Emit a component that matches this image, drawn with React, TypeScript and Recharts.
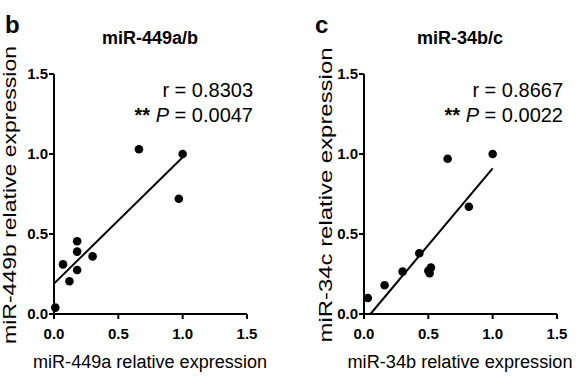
import React from "react";
import {
  ScatterChart,
  Scatter,
  XAxis,
  YAxis,
  ReferenceLine,
} from "recharts";

// panel b: miR-449a vs miR-449b
const mir449a = [0.66, 1.0, 0.97, 0.18, 0.18, 0.07, 0.3, 0.18, 0.12, 0.01];
const mir449b = [1.03, 1.0, 0.72, 0.455, 0.39, 0.31, 0.36, 0.275, 0.205, 0.04];
const fit449 = [
  { x: 0, y: 0.19 },
  { x: 1.0, y: 0.98 },
];

// panel c: miR-34b vs miR-34c
const mir34b = [0.65, 1.0, 0.815, 0.43, 0.5, 0.52, 0.51, 0.3, 0.16, 0.03];
const mir34c = [0.97, 1.0, 0.67, 0.38, 0.27, 0.29, 0.255, 0.265, 0.18, 0.1];
const fit34 = [
  { x: 0.05, y: 0 },
  { x: 1.0, y: 0.91 },
];

const axisTicks = [0, 0.5, 1, 1.5];

const font = '"Liberation Sans", Arial, Helvetica, sans-serif';

const toPoints = (xs: number[], ys: number[]) =>
  xs.map((x, i) => ({ x, y: ys[i] }));

const Dot = (props: any) => {
  const { cx, cy } = props;
  if (cx == null || cy == null) return null;
  return <circle cx={cx} cy={cy} r={4.3} fill="#000" />;
};

interface PanelProps {
  points: { x: number; y: number }[];
  fit: { x: number; y: number }[];
  left: number;
  marginLeft: number;
  marginRight: number;
}

function Panel({ points, fit, left, marginLeft, marginRight }: PanelProps) {
  const tick = { fill: "#000", fontSize: 15, fontWeight: 700, fontFamily: font };
  return (
    <div style={{ position: "absolute", left, top: 0 }}>
      <ScatterChart
        width={290}
        height={390}
        margin={{ top: 74, right: marginRight, bottom: 46, left: marginLeft }}
      >
        <XAxis
          type="number"
          dataKey="x"
          domain={[0, 1.5]}
          ticks={axisTicks}
          tickFormatter={(v) => v.toFixed(1)}
          height={30}
          tickSize={5}
          tickMargin={9}
          axisLine={{ stroke: "#000", strokeWidth: 2 }}
          tickLine={{ stroke: "#000", strokeWidth: 2 }}
          tick={tick}
        />
        <YAxis
          type="number"
          dataKey="y"
          domain={[0, 1.5]}
          ticks={axisTicks}
          tickFormatter={(v) => v.toFixed(1)}
          width={30}
          tickSize={5}
          tickMargin={1}
          axisLine={{ stroke: "#000", strokeWidth: 2 }}
          tickLine={{ stroke: "#000", strokeWidth: 2 }}
          tick={tick}
        />
        <ReferenceLine
          segment={fit}
          stroke="#000"
          strokeWidth={2}
          ifOverflow="visible"
        />
        <Scatter data={points} shape={<Dot />} isAnimationActive={false} />
      </ScatterChart>
    </div>
  );
}

interface LabelsProps {
  letter: string;
  letterX: number;
  title: string;
  cx: number;
  r: string;
  p: string;
  annEnd: number;
  yLabel: string;
  yLabelX: number;
  yLabelLen: number;
  xLabel: string;
  xLabelLen: number;
}

function Labels(l: LabelsProps) {
  return (
    <g fontFamily={font} fill="#000">
      <text x={l.letterX} y={33} fontSize={24} fontWeight={700}>
        {l.letter}
      </text>
      <text x={l.cx} y={44} fontSize={18} fontWeight={700} textAnchor="middle">
        {l.title}
      </text>
      <text x={l.annEnd} y={97} fontSize={20} textAnchor="end">
        {l.r}
      </text>
      <text x={l.annEnd} y={122} fontSize={20} textAnchor="end">
        <tspan fontWeight={700}>**</tspan>
        <tspan> </tspan>
        <tspan fontStyle="italic">P</tspan>
        <tspan>{" = " + l.p}</tspan>
      </text>
      <text
        transform={`translate(${l.yLabelX},195) rotate(-90)`}
        fontSize={18}
        textAnchor="middle"
        textLength={l.yLabelLen}
        lengthAdjust="spacingAndGlyphs"
      >
        {l.yLabel}
      </text>
      <text
        x={l.cx}
        y={368}
        fontSize={18}
        textAnchor="middle"
        textLength={l.xLabelLen}
        lengthAdjust="spacingAndGlyphs"
      >
        {l.xLabel}
      </text>
    </g>
  );
}

export default function App() {
  return (
    <div
      style={{
        position: "absolute",
        left: 0,
        top: 0,
        width: 580,
        height: 390,
        background: "#fff",
        overflow: "hidden",
      }}
    >
      <Panel
        points={toPoints(mir449a, mir449b)}
        fit={fit449}
        left={0}
        marginLeft={24}
        marginRight={43}
      />
      <Panel
        points={toPoints(mir34b, mir34c)}
        fit={fit34}
        left={290}
        marginLeft={44}
        marginRight={23}
      />
      <svg
        width={580}
        height={390}
        style={{ position: "absolute", left: 0, top: 0, pointerEvents: "none" }}
      >
        <Labels
          letter="b"
          letterX={5}
          title="miR-449a/b"
          cx={150}
          r="r = 0.8303"
          p="0.0047"
          annEnd={253}
          yLabel="miR-449b relative expression"
          yLabelX={16}
          yLabelLen={298}
          xLabel="miR-449a relative expression"
          xLabelLen={234}
        />
        <Labels
          letter="c"
          letterX={315}
          title="miR-34b/c"
          cx={460}
          r="r = 0.8667"
          p="0.0022"
          annEnd={563}
          yLabel="miR-34c relative expression"
          yLabelX={332}
          yLabelLen={295}
          xLabel="miR-34b relative expression"
          xLabelLen={225}
        />
      </svg>
    </div>
  );
}
